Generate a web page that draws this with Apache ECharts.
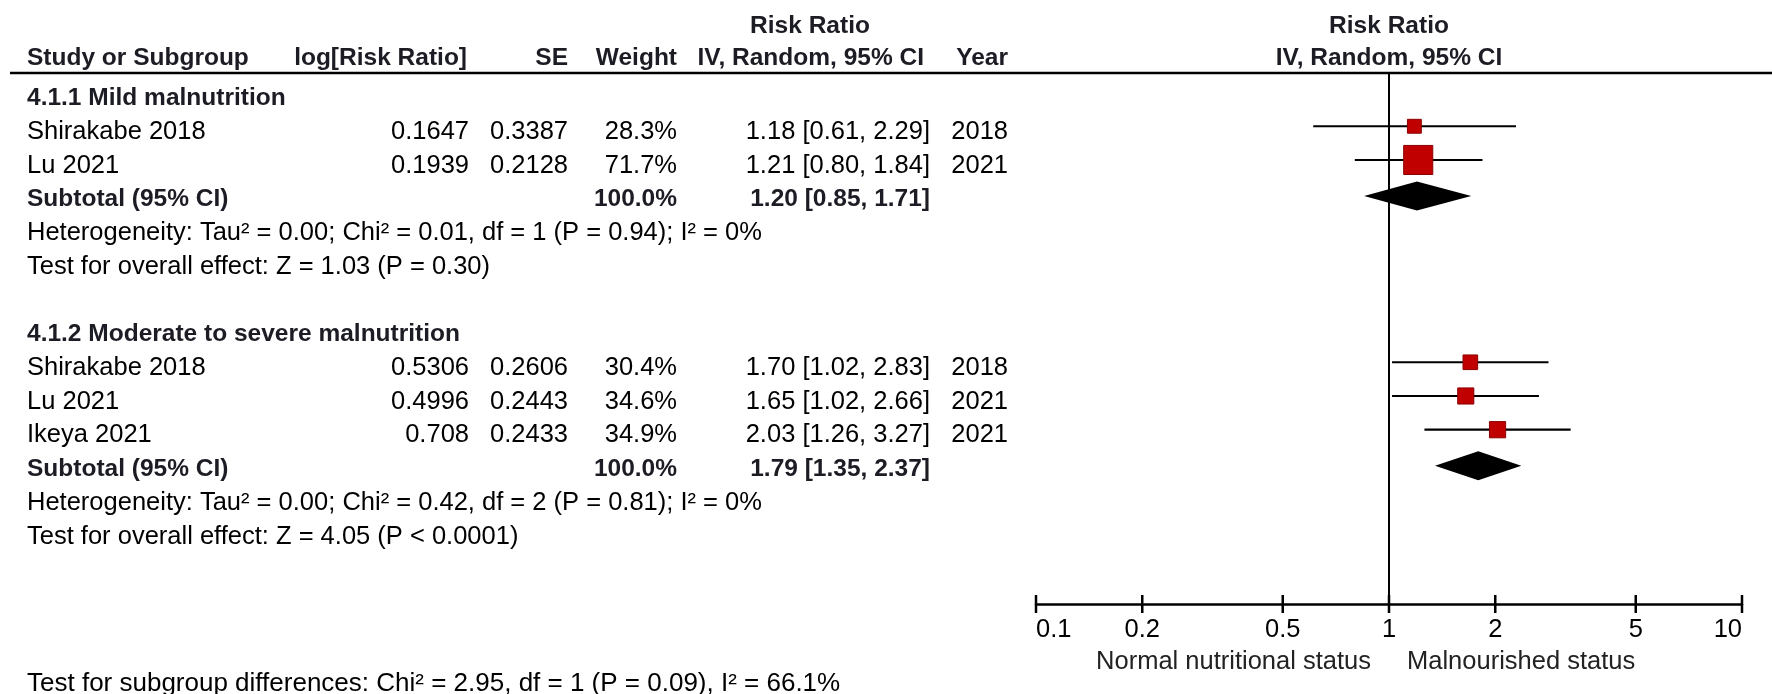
<!DOCTYPE html>
<html><head><meta charset="utf-8">
<script src="https://cdn.jsdelivr.net/npm/echarts@6/dist/echarts.min.js"></script>
<style>html,body{margin:0;padding:0;background:#fff;overflow:hidden}#c{width:1772px;height:694px}</style>
</head><body><div id="c"></div>
<script>
// ---- data ----
const studies = ["Shirakabe 2018","Lu 2021","Shirakabe 2018","Lu 2021","Ikeya 2021"];
const logRR = ["0.1647","0.1939","0.5306","0.4996","0.708"];
const se = ["0.3387","0.2128","0.2606","0.2443","0.2433"];
const weights = [28.3,71.7,30.4,34.6,34.9];
const rr = [1.18,1.21,1.70,1.65,2.03];
const lo = [0.61,0.80,1.02,1.02,1.26];
const hi = [2.29,1.84,2.83,2.66,3.27];
const years = ["2018","2021","2018","2021","2021"];
const subRR = [1.20,1.79];
const subLo = [0.85,1.35];
const subHi = [1.71,2.37];
const subWeight = ["100.0%","100.0%"];
const groupNames = ["4.1.1 Mild malnutrition","4.1.2 Moderate to severe malnutrition"];
const hetText = ["Heterogeneity: Tau² = 0.00; Chi² = 0.01, df = 1 (P = 0.94); I² = 0%","Heterogeneity: Tau² = 0.00; Chi² = 0.42, df = 2 (P = 0.81); I² = 0%"];
const overallText = ["Test for overall effect: Z = 1.03 (P = 0.30)","Test for overall effect: Z = 4.05 (P < 0.0001)"];
const subgroupDiff = "Test for subgroup differences: Chi² = 2.95, df = 1 (P = 0.09), I² = 66.1%";
const tickValues = [0.1,0.2,0.5,1,2,5,10];
const leftLabel = "Normal nutritional status";
const rightLabel = "Malnourished status";

// ---- row layout (row index, top to bottom) ----
const rowsPerGroup = [2,3];
const studyRow = [], subRow = [], groupRow = [], hetRow = [], ovRow = [];
(function(){let r=0;let s=0;for(let k=0;k<2;k++){groupRow.push(r++);for(let j=0;j<rowsPerGroup[k];j++){studyRow[s++]=r++;}subRow.push(r++);hetRow.push(r++);ovRow.push(r++);r++;}})();

const F = "'Liberation Sans', Arial, sans-serif";
const FS = 25.5, FB = 24.5;
const chart = echarts.init(document.getElementById('c'));
const MOFF = -0.17; // markers sit slightly above the text row centre

const ciData = [], ptData = [], diaData = [];
for(let i=0;i<studies.length;i++){ciData.push([lo[i],hi[i],studyRow[i]+MOFF]);ptData.push([rr[i],studyRow[i]+MOFF,weights[i]]);}
for(let k=0;k<2;k++){diaData.push([subLo[k],subRR[k],subHi[k],subRow[k]+MOFF*0.6]);}

chart.setOption({
  animation:false,
  grid:{left:1036,width:706,top:73,height:531},
  xAxis:{type:'log',logBase:10,min:0.1,max:10,position:'bottom',
    axisLine:{show:true,onZero:false,lineStyle:{color:'#000',width:2.5}},
    axisTick:{show:false},
    axisLabel:{customValues:tickValues,color:'#000',fontFamily:F,fontSize:FS,margin:13,
      alignMinLabel:'left',alignMaxLabel:'right',formatter:v=>String(+(+v).toPrecision(3))},
    splitLine:{show:false},minorTick:{show:false}},
  yAxis:{type:'value',min:-0.75,max:15,inverse:true,show:false},
  series:[
    // tick marks crossing the axis line
    {type:'custom',renderItem:(p,api)=>{const c=api.coord([api.value(0),15]);
      return {type:'line',shape:{x1:c[0],y1:c[1]-9,x2:c[0],y2:c[1]+9},style:{stroke:'#000',lineWidth:2.5}};},
      encode:{x:0},data:tickValues.map(v=>[v]),z:3,silent:true},
    // line of no effect
    {type:'custom',renderItem:(p,api)=>{const a=api.coord([1,-0.75]),b=api.coord([1,15]);
      return {type:'line',shape:{x1:a[0],y1:a[1],x2:b[0],y2:b[1]},style:{stroke:'#000',lineWidth:2}};},
      data:[[1]],encode:{x:0},z:2,silent:true},
    // CI whiskers
    {type:'custom',renderItem:(p,api)=>{const a=api.coord([api.value(0),api.value(2)]),b=api.coord([api.value(1),api.value(2)]);
      return {type:'line',shape:{x1:a[0],y1:a[1],x2:b[0],y2:b[1]},style:{stroke:'#000',lineWidth:2.2}};},
      encode:{x:[0,1],y:2},data:ciData,z:3,silent:true},
    // weighted squares
    {type:'custom',renderItem:(p,api)=>{const c=api.coord([api.value(0),api.value(1)]);const s=4+0.35*api.value(2);
      return {type:'rect',shape:{x:c[0]-s/2,y:c[1]-s/2,width:s,height:s},style:{fill:'#c00000',stroke:'#8b0000',lineWidth:1}};},
      encode:{x:0,y:1},data:ptData,z:4,silent:true},
    // subtotal diamonds
    {type:'custom',renderItem:(p,api)=>{const l=api.coord([api.value(0),api.value(3)]),m=api.coord([api.value(1),api.value(3)]),r=api.coord([api.value(2),api.value(3)]);
      return {type:'polygon',shape:{points:[[l[0],l[1]],[m[0],m[1]-14.5],[r[0],r[1]],[m[0],m[1]+14.5]]},style:{fill:'#000'}};},
      encode:{x:[0,1,2],y:3},data:diaData,z:4,silent:true}
  ]
});

// ---- table text, rows placed through the y scale ----
const Y = r => chart.convertToPixel({gridIndex:0},[1,r])[1];
const X = v => chart.convertToPixel({gridIndex:0},[v,0])[0];
const g = [];
const N = {font:FS+'px '+F, fill:'#000'};
const B = {font:'bold '+FB+'px '+F, fill:'#1c1c24'};
function txt(x,y,t,base,align){g.push({type:'text',x:x,y:y,silent:true,style:Object.assign({text:t,textAlign:align||'left',textVerticalAlign:'middle'},base)});}

const colStudy=27, colLog=469, colSE=568, colW=677, colCI=930, colYear=1008;
const xOne = X(1);
txt(810,26,"Risk Ratio",B,'center');
txt(xOne,26,"Risk Ratio",B,'center');
txt(colStudy,58,"Study or Subgroup",B);
txt(colLog-2,58,"log[Risk Ratio]",B,'right');
txt(colSE,58,"SE",B,'right');
txt(colW,58,"Weight",B,'right');
txt(colCI-6,58,"IV, Random, 95% CI",B,'right');
txt(colYear,58,"Year",B,'right');
txt(xOne,58,"IV, Random, 95% CI",B,'center');
g.push({type:'line',silent:true,shape:{x1:10,y1:73,x2:1772,y2:73},style:{stroke:'#000',lineWidth:2.5}});

const f2 = v => v.toFixed(2);
for(let k=0;k<2;k++){
  txt(colStudy,Y(groupRow[k]),groupNames[k],B);
  txt(colStudy,Y(subRow[k]),"Subtotal (95% CI)",B);
  txt(colW,Y(subRow[k]),subWeight[k],B,'right');
  txt(colCI,Y(subRow[k]),f2(subRR[k])+" ["+f2(subLo[k])+", "+f2(subHi[k])+"]",B,'right');
  txt(colStudy,Y(hetRow[k]),hetText[k],N);
  txt(colStudy,Y(ovRow[k]),overallText[k],N);
}
for(let i=0;i<studies.length;i++){
  const y=Y(studyRow[i]);
  txt(colStudy,y,studies[i],N);
  txt(colLog,y,logRR[i],N,'right');
  txt(colSE,y,se[i],N,'right');
  txt(colW,y,weights[i].toFixed(1)+"%",N,'right');
  txt(colCI,y,f2(rr[i])+" ["+f2(lo[i])+", "+f2(hi[i])+"]",N,'right');
  txt(colYear,y,years[i],N,'right');
}
txt(colStudy,684,subgroupDiff,{font:'26px '+F, fill:'#000'});
const axY = Y(15);
txt(xOne-18,axY+58,leftLabel,{font:FS+'px '+F,fill:'#222'},'right');
txt(xOne+18,axY+58,rightLabel,{font:FS+'px '+F,fill:'#222'},'left');
chart.setOption({graphic:g});
</script></body></html>
